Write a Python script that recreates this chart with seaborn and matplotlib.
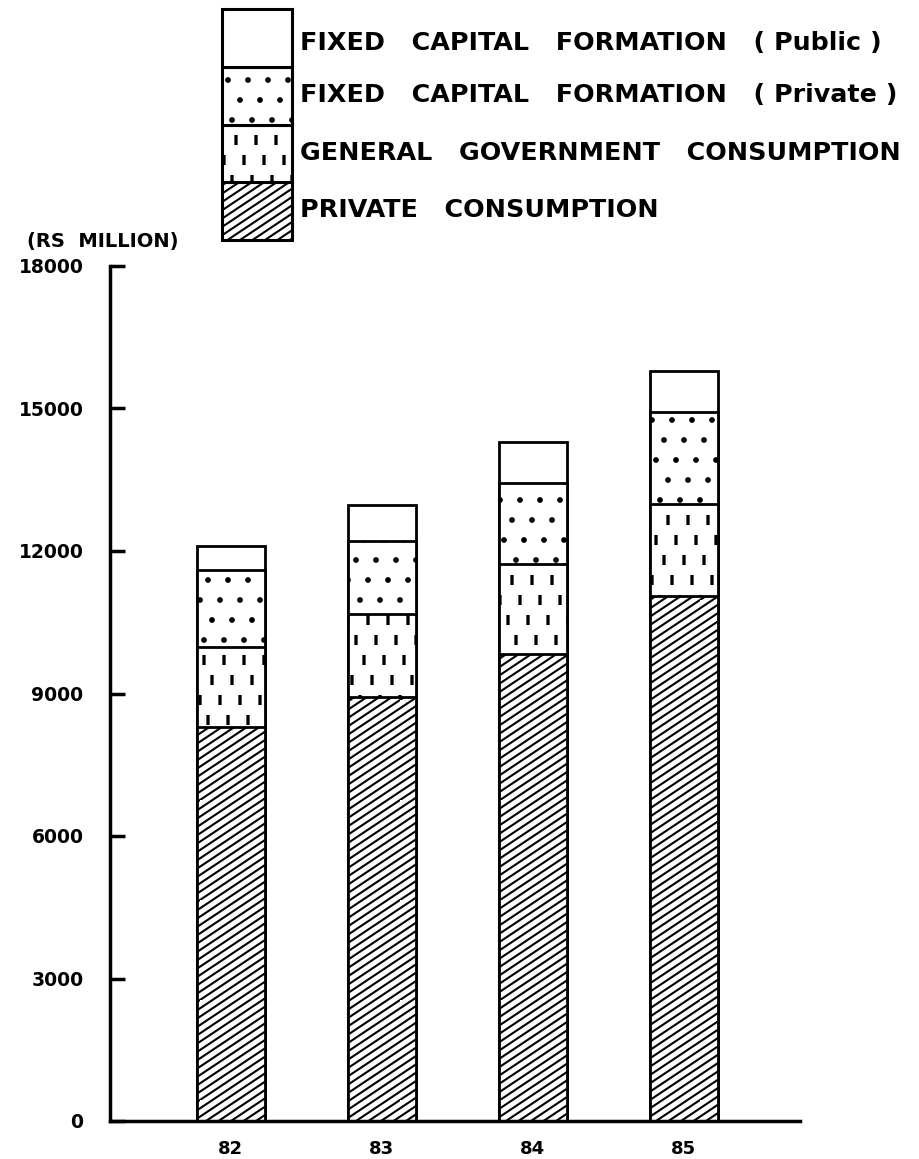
import numpy as np
import matplotlib
matplotlib.use("Agg")
import matplotlib.pyplot as plt
import matplotlib.hatch as mhatch
from matplotlib.path import Path
import seaborn as sns

# ---------------- data ----------------
years = ['82', '83', '84', '85']
private_consumption = [8300, 8920, 9830, 11050]
government_consumption = [1670, 1750, 1890, 1940]
fcf_private = [1640, 1530, 1710, 1940]
fcf_public = [500, 770, 865, 865]

series_labels = [
    'FIXED   CAPITAL   FORMATION   ( Public )',
    'FIXED   CAPITAL   FORMATION   ( Private )',
    'GENERAL   GOVERNMENT   CONSUMPTION',
    'PRIVATE   CONSUMPTION',
]
y_ticks = [0, 3000, 6000, 9000, 12000, 15000, 18000]
y_unit_label = '(RS  MILLION)'


# ---------------- custom hatch patterns ----------------
class SlantLines(mhatch.HatchPatternBase):
    """Hatch lines rising at about 34 degrees (uses '\\')."""
    def __init__(self, hatch, density):
        k = hatch.count('\\')
        self.n = 12 * k
        self.rise = 2.0 / 3.0
        if self.n:
            lo = -int(round(self.rise * self.n))
            self.offsets = np.arange(lo, self.n) / self.n
            self.num_vertices = 2 * len(self.offsets)
        else:
            self.offsets = np.array([])
            self.num_vertices = 0

    def set_vertices_and_codes(self, vertices, codes):
        vertices[0::2, 0] = 0.0
        vertices[0::2, 1] = self.offsets
        vertices[1::2, 0] = 1.0
        vertices[1::2, 1] = self.offsets + self.rise
        codes[0::2] = Path.MOVETO
        codes[1::2] = Path.LINETO


class LatticeMarks(mhatch.HatchPatternBase):
    char = 'o'
    n = 5
    shift = 0.4

    def shape(self):
        c = Path.unit_circle()
        return c.vertices * 0.018, c.codes

    def __init__(self, hatch, density):
        if hatch.count(self.char) == 0:
            self.num_vertices = 0
            return
        pts = []
        for j in range(-1, self.n + 2):
            for i in range(-3, self.n + 4):
                x = (i + self.shift * j) / self.n
                y = j / self.n
                if -0.1 <= x <= 1.1 and -0.1 <= y <= 1.1:
                    pts.append((x, y))
        self.pts = np.array(pts)
        self.sv, self.sc = self.shape()
        self.num_vertices = len(pts) * len(self.sv)

    def set_vertices_and_codes(self, vertices, codes):
        m = len(self.sv)
        for k, (x, y) in enumerate(self.pts):
            vertices[k * m:(k + 1) * m] = self.sv + [x, y]
            codes[k * m:(k + 1) * m] = self.sc


class DotMarks(LatticeMarks):
    char = 'o'
    shift = 0.4


class DashMarks(LatticeMarks):
    char = 'O'
    shift = 0.6

    def shape(self):
        hw, hh = 0.006, 0.04
        v = np.array([[-hw, -hh], [hw, -hh], [hw, hh], [-hw, hh], [-hw, -hh]])
        c = np.array([Path.MOVETO, Path.LINETO, Path.LINETO, Path.LINETO,
                      Path.CLOSEPOLY], dtype=Path.code_type)
        return v, c


_ht = mhatch._hatch_types
_ht[_ht.index(mhatch.SouthEastHatch)] = SlantLines
_ht[_ht.index(mhatch.SmallCircles)] = DotMarks
_ht[_ht.index(mhatch.LargeCircles)] = DashMarks

# ---------------- style ----------------
sns.set_style('white')
plt.rcParams['font.family'] = ['DejaVu Sans']
plt.rcParams['font.weight'] = 'bold'
plt.rcParams['hatch.linewidth'] = 1.5
plt.rcParams['hatch.color'] = 'black'
plt.rcParams['text.color'] = 'black'
plt.rcParams['axes.labelcolor'] = 'black'
plt.rcParams['xtick.color'] = 'black'
plt.rcParams['ytick.color'] = 'black'

W, H = 919, 1159
fig = plt.figure(figsize=(W / 100, H / 100), dpi=100)
fig.patch.set_facecolor('white')

ax = fig.add_axes([110 / W, 1 - 1121 / H, (800 - 110) / W, (1121 - 266) / H])

# stacked layers drawn from the tallest cumulative sum down
layers = [private_consumption, government_consumption, fcf_private, fcf_public]
hatches = ['\\', 'O', 'o', None]
cums = np.cumsum(np.array(layers, dtype=float), axis=0)
for i in range(len(layers) - 1, -1, -1):
    sns.barplot(x=years, y=cums[i], order=years, color='white',
                edgecolor='black', linewidth=2.0, width=0.45,
                hatch=hatches[i], errorbar=None, saturation=1, ax=ax)

ax.set_xlim(-0.80, 3.77)
ax.set_ylim(0, 18000)
ax.set_yticks(y_ticks)
ax.set_yticklabels([str(t) for t in y_ticks])
ax.set_xlabel('')
ax.set_ylabel('')
sns.despine(ax=ax)
for s in ['left', 'bottom']:
    ax.spines[s].set_linewidth(2.5)
    ax.spines[s].set_color('black')
ax.tick_params(axis='y', left=True, direction='in', length=11, width=2.5,
               pad=19, labelsize=13.5, colors='black')
ax.tick_params(axis='x', bottom=False, length=0, pad=14, labelsize=13,
               colors='black')
ax.set_facecolor('white')

fig.text(27 / W, 1 - 242 / H, y_unit_label, fontsize=14, fontweight='bold',
         ha='left', va='center', color='black')

# ---------------- legend (stacked key box) ----------------
lax = fig.add_axes([222 / W, 1 - 240 / H, 70 / W, 231 / H])
lax.set_xlim(0, 1)
lax.set_ylim(0, 4)
lax.axis('off')
key_hatches = ['\\', 'O', 'o', None]  # bottom to top
for j, h in enumerate(key_hatches):
    lax.bar(0.5, 1, bottom=j, width=1, color='white', edgecolor='black',
            linewidth=2.2, hatch=h, clip_on=False)

label_y = [43, 95, 153, 210]
for lab, yy in zip(series_labels, label_y):
    fig.text(300 / W, 1 - yy / H, lab, fontsize=18.3, fontweight='bold',
             ha='left', va='center', color='black')

fig.savefig('out.png', dpi=100, facecolor='white')
